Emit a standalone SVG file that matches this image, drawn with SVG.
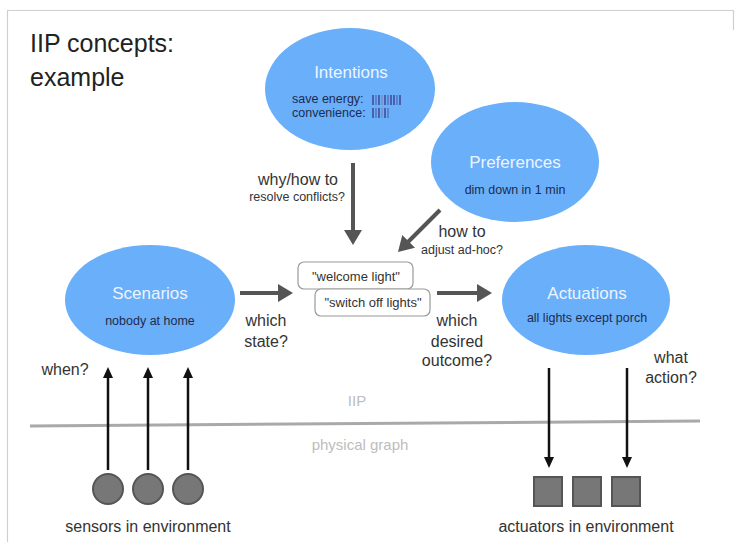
<svg xmlns="http://www.w3.org/2000/svg" width="735" height="542" viewBox="0 0 735 542">
<style>
text{font-family:"Liberation Sans",Arial,sans-serif}
.bubble{fill:#69affa}
.ttl{fill:#eef4ff;font-size:17px;text-anchor:middle}
.sub{fill:#1f2b4d;font-size:12.5px;text-anchor:middle}
.lbl{fill:#333;font-size:16px}
.sml{fill:#333;font-size:12.5px}
.box{fill:#fff;stroke:#9a9a9a;stroke-width:1.2}
.boxt{fill:#333;font-size:13px;text-anchor:middle}
.thick{stroke:#555;stroke-width:4;fill:none}
.thin{stroke:#111;stroke-width:2.5;fill:none}
.dev{fill:#777;stroke:#555;stroke-width:2}
.layer{fill:#bdbdbd;font-size:15px;text-anchor:middle}
</style>
<defs>
<marker id="ah" markerUnits="userSpaceOnUse" viewBox="0 0 15 18" refX="3" refY="9" markerWidth="15" markerHeight="18" orient="auto"><path d="M0,0 L15,9 L0,18 z" fill="#555"/></marker>
<marker id="ahb" markerUnits="userSpaceOnUse" viewBox="0 0 11 10" refX="2" refY="5" markerWidth="11" markerHeight="10" orient="auto"><path d="M0,0 L11,5 L0,10 z" fill="#111"/></marker>
</defs>
<rect width="735" height="542" fill="#fff"/>
<path d="M7.5,542 V10.5 H733.5 V30" fill="none" stroke="#cfcfcf" stroke-width="1.2"/>
<g id="title">
<text x="30" y="52" font-size="25" fill="#222">IIP concepts:</text>
<text x="30" y="86" font-size="25" fill="#222">example</text>
</g>
<g id="layers">
<line x1="30" y1="426" x2="700" y2="421" stroke="#a9a9a9" stroke-width="3"/>
<text class="layer" x="357" y="406">IIP</text>
<text class="layer" x="360" y="450">physical graph</text>
</g>
<g id="intentions">
<ellipse class="bubble" cx="350" cy="89" rx="85" ry="61"/>
<text class="ttl" x="351" y="78">Intentions</text>
<text class="sml" x="292" y="103" fill="#1f2b4d" style="fill:#1f2b4d">save energy:</text>
<text class="sml" x="292" y="117" style="fill:#1f2b4d">convenience:</text>
<g stroke-width="1.4">
<line x1="373" y1="95" x2="373" y2="105" stroke="#3b3f8f"/><line x1="376" y1="95" x2="376" y2="105" stroke="#5a6db5"/><line x1="379" y1="95" x2="379" y2="105" stroke="#3b3f8f"/><line x1="382" y1="95" x2="382" y2="105" stroke="#7d8cc0"/><line x1="385" y1="95" x2="385" y2="105" stroke="#3b3f8f"/><line x1="388" y1="95" x2="388" y2="105" stroke="#5a6db5"/><line x1="391" y1="95" x2="391" y2="105" stroke="#3b3f8f"/><line x1="394" y1="95" x2="394" y2="105" stroke="#3b3f8f"/><line x1="397" y1="95" x2="397" y2="105" stroke="#5a6db5"/><line x1="400" y1="95" x2="400" y2="105" stroke="#3b3f8f"/>
<line x1="373" y1="108" x2="373" y2="118" stroke="#3b3f8f"/><line x1="376" y1="108" x2="376" y2="118" stroke="#5a6db5"/><line x1="379" y1="108" x2="379" y2="118" stroke="#3b3f8f"/><line x1="382" y1="108" x2="382" y2="118" stroke="#7d8cc0"/><line x1="385" y1="108" x2="385" y2="118" stroke="#3b3f8f"/><line x1="388" y1="108" x2="388" y2="118" stroke="#5a6db5"/>
</g>
</g>
<g id="preferences">
<ellipse class="bubble" cx="515" cy="162" rx="84" ry="60"/>
<text class="ttl" x="515" y="168">Preferences</text>
<text class="sub" x="515" y="194">dim down in 1 min</text>
</g>
<g id="scenarios">
<ellipse class="bubble" cx="150" cy="300" rx="85" ry="55"/>
<text class="ttl" x="150" y="299">Scenarios</text>
<text class="sub" x="150" y="325">nobody at home</text>
</g>
<g id="actuations">
<ellipse class="bubble" cx="586" cy="300" rx="84" ry="55"/>
<text class="ttl" x="587" y="299">Actuations</text>
<text class="sub" x="587" y="322">all lights except porch</text>
</g>
<g id="states">
<rect class="box" x="298" y="262" width="115" height="27" rx="6"/>
<text class="boxt" x="356" y="281">"welcome light"</text>
<rect class="box" x="315" y="289" width="115" height="27" rx="6"/>
<text class="boxt" x="373" y="307">"switch off lights"</text>
</g>
<g id="sensors">
<circle class="dev" cx="108" cy="489" r="15"/>
<circle class="dev" cx="148" cy="489" r="15"/>
<circle class="dev" cx="188" cy="489" r="15"/>
<text class="lbl" x="148" y="532" text-anchor="middle">sensors in environment</text>
</g>
<g id="actuators">
<rect class="dev" x="534" y="477" width="28" height="29"/>
<rect class="dev" x="573" y="477" width="28" height="29"/>
<rect class="dev" x="612" y="477" width="28" height="29"/>
<text class="lbl" x="586" y="532" text-anchor="middle">actuators in environment</text>
</g>
<g id="connectors">
<line class="thick" x1="353" y1="163" x2="353" y2="233" marker-end="url(#ah)"/>
<line class="thick" x1="440" y1="210" x2="406.5" y2="243.5" marker-end="url(#ah)"/>
<line class="thick" x1="240" y1="293" x2="281" y2="293" marker-end="url(#ah)"/>
<line class="thick" x1="437" y1="293" x2="480" y2="293" marker-end="url(#ah)"/>
<line class="thin" x1="108" y1="470" x2="108" y2="376" marker-end="url(#ahb)"/>
<line class="thin" x1="148" y1="470" x2="148" y2="376" marker-end="url(#ahb)"/>
<line class="thin" x1="188" y1="470" x2="188" y2="376" marker-end="url(#ahb)"/>
<line class="thin" x1="549" y1="368" x2="549" y2="459" marker-end="url(#ahb)"/>
<line class="thin" x1="627" y1="368" x2="627" y2="459" marker-end="url(#ahb)"/>
</g>
<g id="labels">
<text class="lbl" x="338" y="185" text-anchor="end">why/how to</text>
<text class="sml" x="345" y="201" text-anchor="end">resolve conflicts?</text>
<text class="lbl" x="462" y="237" text-anchor="middle">how to</text>
<text class="sml" x="462" y="254" text-anchor="middle">adjust ad-hoc?</text>
<text class="lbl" x="266" y="326" text-anchor="middle">which</text>
<text class="lbl" x="266" y="347" text-anchor="middle">state?</text>
<text class="lbl" x="457" y="326" text-anchor="middle">which</text>
<text class="lbl" x="457" y="347" text-anchor="middle">desired</text>
<text class="lbl" x="457" y="366" text-anchor="middle">outcome?</text>
<text class="lbl" x="65" y="375" text-anchor="middle">when?</text>
<text class="lbl" x="671" y="363" text-anchor="middle">what</text>
<text class="lbl" x="671" y="383" text-anchor="middle">action?</text>
</g>
</svg>
